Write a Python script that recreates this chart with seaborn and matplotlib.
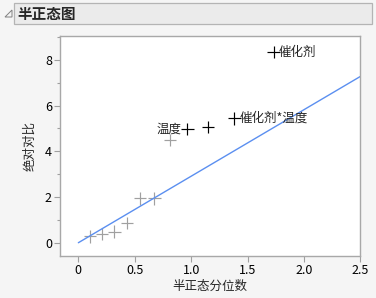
import matplotlib
matplotlib.use("Agg")
import matplotlib.pyplot as plt
import seaborn as sns
import pandas as pd
from matplotlib.patches import Rectangle, Polygon
from matplotlib.ticker import MultipleLocator

sns.set_style("white")
plt.rcParams['font.family'] = ['Noto Sans CJK SC', 'DejaVu Sans']

# data
quantiles = [0.105, 0.210, 0.319, 0.431, 0.549, 0.674, 0.812, 0.967, 1.150, 1.383, 1.732]
abs_contrast = [0.28, 0.38, 0.49, 0.86, 1.94, 1.94, 4.50, 4.98, 5.07, 5.44, 8.34]
group = ["other"] * 7 + ["significant"] * 4
labels = [""] * 7 + ["温度", "", "催化剂*温度", "催化剂"]
line_x = [0.0, 2.5]
line_y = [0.0, 7.27]

title = "半正态图"
xlabel = "半正态分位数"
ylabel = "绝对对比"

df = pd.DataFrame({"q": quantiles, "c": abs_contrast, "g": group, "lab": labels})
line_df = pd.DataFrame({"x": line_x, "y": line_y})

fig = plt.figure(figsize=(3.76, 2.98), dpi=100)
fig.patch.set_facecolor("#f5f5f5")
W, H = 376, 298

# header
fig.patches.append(Rectangle((14 / W, 1 - 24.3 / H), (372 - 14) / W, (24.3 - 3.3) / H,
                             transform=fig.transFigure, facecolor="#ebebeb",
                             edgecolor="#b4b4b4", linewidth=0.9))
fig.patches.append(Polygon([(5 / W, 1 - 17 / H), (12 / W, 1 - 17 / H), (12 / W, 1 - 10 / H)],
                           closed=True, transform=fig.transFigure, facecolor="none",
                           edgecolor="#808080", linewidth=0.7))
fig.text(17 / W, 1 - 14 / H, title, fontsize=10.5, fontweight="bold", va="center", ha="left")

ax = fig.add_axes([60.3 / W, 1 - 256 / H, 300 / W, (256 - 36) / H])
ax.set_facecolor("white")

sns.lineplot(data=line_df, x="x", y="y", ax=ax, color="#5b8ff0", linewidth=1.0, legend=False)
sns.scatterplot(data=df, x="q", y="c", hue="g", palette={"other": "#a0a0a0", "significant": "#000000"},
                marker="+", s=80, linewidth=0.85, ax=ax, legend=False)

for _, r in df.iterrows():
    if r.lab == "温度":
        ax.annotate(r.lab, (r.q, r.c), xytext=(-4, 0), textcoords="offset points",
                    ha="right", va="center", fontsize=9)
    elif r.lab:
        ax.annotate(r.lab, (r.q, r.c), xytext=(3.5, 0), textcoords="offset points",
                    ha="left", va="center", fontsize=9)

ax.set_xlim(-0.16, 2.5)
ax.set_ylim(-0.58, 9.04)
ax.yaxis.set_minor_locator(MultipleLocator(1))
ax.set_xticks([0, 0.5, 1.0, 1.5, 2.0, 2.5])
ax.set_xticklabels(["0", "0.5", "1.0", "1.5", "2.0", "2.5"])
ax.set_yticks([0, 2, 4, 6, 8])
ax.set_yticklabels(["0", "2", "4", "6", "8"])

for s in ax.spines.values():
    s.set_color("#a8a8a8")
    s.set_linewidth(1.0)
ax.tick_params(axis="both", which="major", direction="out", length=4, width=0.8,
               color="#a0a0a0", labelsize=9, labelcolor="black", pad=2,
               bottom=True, left=True)
ax.tick_params(axis="y", which="minor", direction="out", length=2.5, width=0.8,
               color="#a0a0a0", left=True)

ax.set_xlabel(xlabel, fontsize=9, labelpad=2)
ax.set_ylabel(ylabel, fontsize=9, labelpad=6)

fig.savefig("out.png", dpi=100, facecolor=fig.get_facecolor())
